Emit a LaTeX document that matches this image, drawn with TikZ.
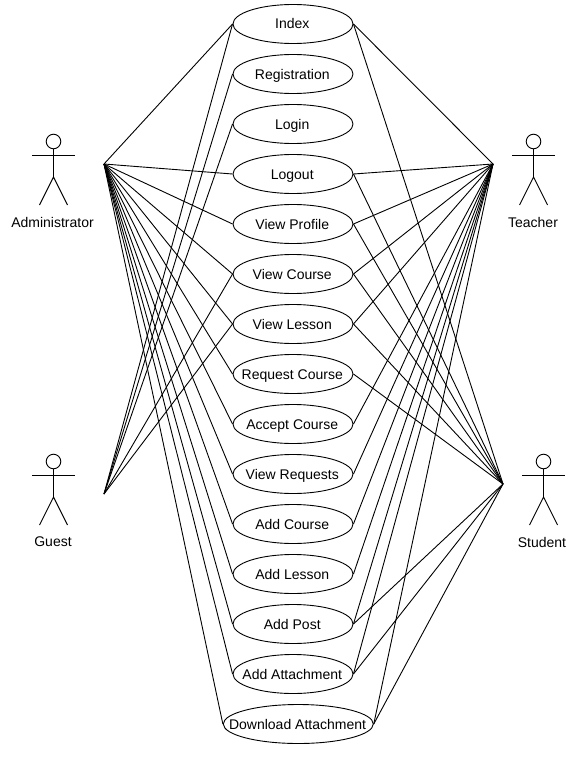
\documentclass[tikz,border=0pt]{standalone}
\usepackage{fontspec}
\setmainfont{Liberation Sans}
\usetikzlibrary{shapes.geometric}
\tikzset{
  usecase/.style={draw=black,ellipse,minimum width=120pt,minimum height=39pt,inner sep=0pt,line width=0.9pt,fill=none,font=\fontsize{14}{16}\selectfont,text height=10pt,text depth=0pt},
  widecase/.style={usecase,minimum width=150pt},
  actorlabel/.style={font=\fontsize{14}{16}\selectfont,inner sep=0pt},
  link/.style={draw=black,line width=0.9pt},
  stick/.style={draw=black,line width=0.9pt},
}
\newcommand{\casetext}[1]{\makebox[0pt]{#1\hspace{1.5pt}}}
\newcommand{\stickman}[2]{%
  \begin{scope}[shift={(#1,#2)}]
    \draw[stick] (0,-13.5) circle (7.3);
    \draw[stick] (0,-6.2) -- (0,22);
    \draw[stick] (-21.5,0) -- (21.5,0);
    \draw[stick] (-14,50) -- (0,22) -- (14,50);
  \end{scope}}
\begin{document}
\begin{tikzpicture}[x=1pt,y=-1pt]
\useasboundingbox (0,0) rectangle (587,768);
\fill[white] (0,0) rectangle (587,768);
\coordinate (admin) at (104,164);
\coordinate (teacher) at (493,164);
\coordinate (guest) at (104,494);
\coordinate (student) at (503,484);
\foreach \n/\t/\y in {index/Index/24,registration/Registration/74,login/Login/124,logout/Logout/174,profile/View Profile/224,course/View Course/274,lesson/View Lesson/324,request/Request Course/374,accept/Accept Course/424,requests/View Requests/474,addcourse/Add Course/524,addlesson/Add Lesson/574,addpost/Add Post/624,addattach/Add Attachment/674}
  \node[usecase] (\n) at (293,\y) {\casetext{\t}};
\node[widecase] (download) at (298.3,724) {\casetext{Download Attachment}};
\foreach \e in {index,logout,profile,course,lesson,request,accept,requests,addcourse,addlesson,addpost,addattach,download}
  \draw[link] (admin) -- (\e.west);
\foreach \e in {index,registration,login,course,lesson}
  \draw[link] (guest) -- (\e.west);
\foreach \e in {index,logout,profile,course,lesson,accept,requests,addcourse,addlesson,addpost,addattach,download}
  \draw[link] (teacher) -- (\e.east);
\foreach \e in {index,logout,profile,course,lesson,request,addpost,addattach,download}
  \draw[link] (student) -- (\e.east);
\stickman{53.5}{155}
\stickman{533.5}{155}
\stickman{53.5}{475}
\stickman{543.5}{475}
\node[actorlabel] (ladmin) at (52.5,222) {Administrator};
\node[actorlabel] (lteacher) at (533,222) {Teacher};
\node[actorlabel] (lguest) at (53,542) {Guest};
\node[actorlabel] (lstudent) at (542,542) {Student};
\end{tikzpicture}
\end{document}
